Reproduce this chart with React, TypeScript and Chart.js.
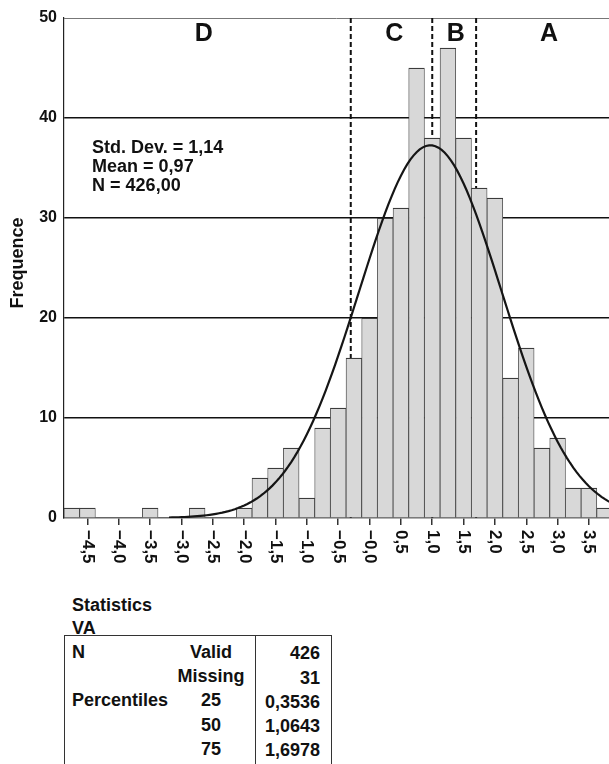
import React, { useEffect, useRef } from "react";
import { Chart, registerables } from "chart.js";

Chart.register(...registerables);

// ---- data ----
const binMidpoints = [
  -4.75, -4.5, -4.25, -4.0, -3.75, -3.5, -3.25, -3.0, -2.75, -2.5, -2.25, -2.0,
  -1.75, -1.5, -1.25, -1.0, -0.75, -0.5, -0.25, 0.0, 0.25, 0.5, 0.75, 1.0,
  1.25, 1.5, 1.75, 2.0, 2.25, 2.5, 2.75, 3.0, 3.25, 3.5, 3.75,
];
const frequencies = [
  1, 1, 0, 0, 0, 1, 0, 0, 1, 0, 0, 1,
  4, 5, 7, 2, 9, 11, 16, 20, 30, 31, 45, 38,
  47, 38, 33, 32, 14, 17, 7, 8, 3, 3, 1,
];
const xTickValues = [-4.5, -4, -3.5, -3, -2.5, -2, -1.5, -1, -0.5, 0, 0.5, 1, 1.5, 2, 2.5, 3, 3.5];
const xTickLabels = [
  "−4,5", "−4,0", "−3,5", "−3,0", "−2,5", "−2,0", "−1,5", "−1,0", "−0,5", "−0,0",
  "0,5", "1,0", "1,5", "2,0", "2,5", "3,0", "3,5",
];
const yTickValues = [0, 10, 20, 30, 40, 50];
const yAxisTitle = "Frequence";

// normal-curve statistics (as printed in the chart)
const stdDev = 1.14;
const mean = 0.97;
const nValid = 426;
const binWidth = 0.25;
const curveFrom = -3.2;

const statsLines = ["Std. Dev. = 1,14", "Mean = 0,97", "N = 426,00"];
const zoneLabels = ["D", "C", "B", "A"];
const zoneLabelCenters = [-2.645, 0.396, 1.377, 2.862];
const zoneDividers = [-0.3, 1.0, 1.7];

const xMin = -4.875;
const xMax = 3.82;

// statistics table
const tableTitle = "Statistics";
const tableVariable = "VA";
const tableGroupLabels = ["N", "", "Percentiles", "", ""];
const tableSubLabels = ["Valid", "Missing", "25", "50", "75"];
const tableValues = ["426", "31", "0,3536", "1,0643", "1,6978"];

const FONT = "'Liberation Sans', Arial, Helvetica, sans-serif";
const TEXT = "#111111";

// fitted normal curve from the printed mean / SD / N
const curvePoints: { x: number; y: number }[] = [];
for (let v = curveFrom; v <= xMax + 0.06; v += 0.05) {
  const z = (v - mean) / stdDev;
  curvePoints.push({
    x: v,
    y: ((nValid * binWidth) / (stdDev * Math.sqrt(2 * Math.PI))) * Math.exp(-0.5 * z * z),
  });
}

const overlayPlugin = {
  id: "histOverlay",
  beforeDatasetsDraw(chart: any) {
    const { ctx, chartArea, scales } = chart;
    const x = scales.x;
    ctx.save();
    ctx.strokeStyle = "#111";
    ctx.lineWidth = 2;
    ctx.setLineDash([5, 3]);
    zoneDividers.forEach((v) => {
      const px = x.getPixelForValue(v);
      ctx.beginPath();
      ctx.moveTo(px, chartArea.top);
      ctx.lineTo(px, chartArea.bottom);
      ctx.stroke();
    });
    ctx.restore();
  },
  afterDatasetsDraw(chart: any) {
    const { ctx, scales } = chart;
    const x = scales.x;
    const y = scales.y;
    ctx.save();
    ctx.fillStyle = TEXT;
    ctx.font = `bold 25px ${FONT}`;
    ctx.textAlign = "center";
    ctx.textBaseline = "middle";
    zoneLabels.forEach((t, i) => {
      ctx.fillText(t, x.getPixelForValue(zoneLabelCenters[i]), y.getPixelForValue(48.4));
    });
    ctx.font = `bold 18px ${FONT}`;
    ctx.textAlign = "left";
    ctx.textBaseline = "alphabetic";
    const sx = x.getPixelForValue(-4.427);
    const sy = y.getPixelForValue(36.5);
    statsLines.forEach((t, i) => {
      ctx.fillText(t, sx, sy + i * 18.8);
    });
    ctx.restore();
  },
  afterDraw(chart: any) {
    const { ctx, chartArea, scales } = chart;
    const x = scales.x;
    const y = scales.y;
    ctx.save();
    ctx.fillStyle = TEXT;
    ctx.font = `bold 17px ${FONT}`;
    ctx.textAlign = "left";
    ctx.textBaseline = "middle";
    xTickValues.forEach((v, i) => {
      const px = x.getPixelForValue(v);
      ctx.save();
      ctx.translate(px, chartArea.bottom + 12);
      ctx.rotate(Math.PI / 2);
      ctx.fillText(xTickLabels[i], 0, 0);
      ctx.restore();
    });
    // y-axis title
    ctx.font = `bold 18px ${FONT}`;
    ctx.textAlign = "center";
    ctx.save();
    ctx.translate(y.left + 18.3, y.getPixelForValue(25.5));
    ctx.rotate(-Math.PI / 2);
    ctx.fillText(yAxisTitle, 0, 0);
    ctx.restore();
    ctx.restore();
  },
};

export default function App() {
  const canvasRef = useRef<HTMLCanvasElement | null>(null);

  useEffect(() => {
    if (!canvasRef.current) return;
    const chart = new Chart(canvasRef.current, {
      type: "bar",
      data: {
        datasets: [
          {
            type: "line",
            data: curvePoints,
            borderColor: "#151515",
            borderWidth: 2.2,
            pointRadius: 0,
            tension: 0,
            fill: false,
            order: 1,
          } as any,
          {
            type: "bar",
            data: binMidpoints.map((m, i) => ({ x: m, y: frequencies[i] })),
            backgroundColor: "#d8d8d8",
            borderColor: "#3c3c3c",
            borderWidth: { top: 1.3, left: 0.8, right: 0.8, bottom: 0 },
            borderSkipped: "start",
            barPercentage: 1,
            categoryPercentage: 1,
            order: 2,
          } as any,
        ],
      },
      options: {
        animation: false,
        responsive: false,
        layout: { padding: { top: 18, left: 0, right: 0, bottom: 0 } },
        plugins: {
          legend: { display: false },
          tooltip: { enabled: false },
        },
        scales: {
          x: {
            type: "linear",
            min: xMin,
            max: xMax,
            offset: false,
            afterBuildTicks: (s: any) => {
              s.ticks = xTickValues.map((v) => ({ value: v }));
            },
            afterFit: (s: any) => {
              s.height = 72;
            },
            ticks: { display: false, autoSkip: false },
            grid: {
              offset: false,
              drawOnChartArea: false,
              drawTicks: true,
              tickLength: 7,
              color: "#333",
              lineWidth: 1.5,
            },
            border: { display: true, color: "#666", width: 1.5 },
          },
          y: {
            min: 0,
            max: 50,
            afterBuildTicks: (s: any) => {
              s.ticks = yTickValues.map((v) => ({ value: v }));
            },
            afterFit: (s: any) => {
              s.width = 64;
            },
            ticks: {
              font: { family: FONT, size: 16, weight: "bold" },
              color: TEXT,
              padding: 7,
            },
            grid: {
              drawTicks: false,
              color: (c: any) => {
                const v = c.tick ? c.tick.value : -1;
                if (v === 0) return "rgba(0,0,0,0)";
                if (v === 50) return "#777";
                return "#111";
              },
              lineWidth: (c: any) => (c.tick && c.tick.value === 50 ? 1 : 1.4),
            },
            border: { display: true, color: "#222", width: 1.2 },
            title: { display: false },
          },
        },
      } as any,
      plugins: [overlayPlugin],
    });
    return () => chart.destroy();
  }, []);

  const txt: React.CSSProperties = {
    position: "absolute",
    whiteSpace: "nowrap",
    fontSize: 18,
    lineHeight: "18px",
    fontWeight: "bold",
    color: TEXT,
  };

  return (
    <div
      style={{
        position: "absolute",
        left: 0,
        top: 0,
        width: 609,
        height: 764,
        overflow: "hidden",
        background: "#fff",
        fontFamily: FONT,
      }}
    >
      <canvas ref={canvasRef} width={609} height={590} style={{ display: "block", width: 609, height: 590 }} />
      <div style={{ ...txt, left: 72, top: 596.3 }}>{tableTitle}</div>
      <div style={{ ...txt, left: 72, top: 618.8 }}>{tableVariable}</div>
      <div
        style={{
          position: "absolute",
          left: 64,
          top: 635,
          width: 266,
          height: 200,
          borderTop: "1.3px solid #333",
          borderLeft: "1.3px solid #333",
          borderRight: "1.3px solid #333",
        }}
      />
      <div style={{ position: "absolute", left: 254.5, top: 635, width: 0, height: 200, borderLeft: "1.3px solid #333" }} />
      {tableSubLabels.map((s, i) => (
        <React.Fragment key={i}>
          {tableGroupLabels[i] ? (
            <div style={{ ...txt, left: 72, top: 642.8 + i * 24.25 }}>{tableGroupLabels[i]}</div>
          ) : null}
          <div style={{ ...txt, left: 161, width: 100, textAlign: "center", top: 642.8 + i * 24.25 }}>{s}</div>
          <div style={{ ...txt, left: 220, width: 100, textAlign: "right", top: 644.3 + i * 24.25 }}>{tableValues[i]}</div>
        </React.Fragment>
      ))}
    </div>
  );
}
